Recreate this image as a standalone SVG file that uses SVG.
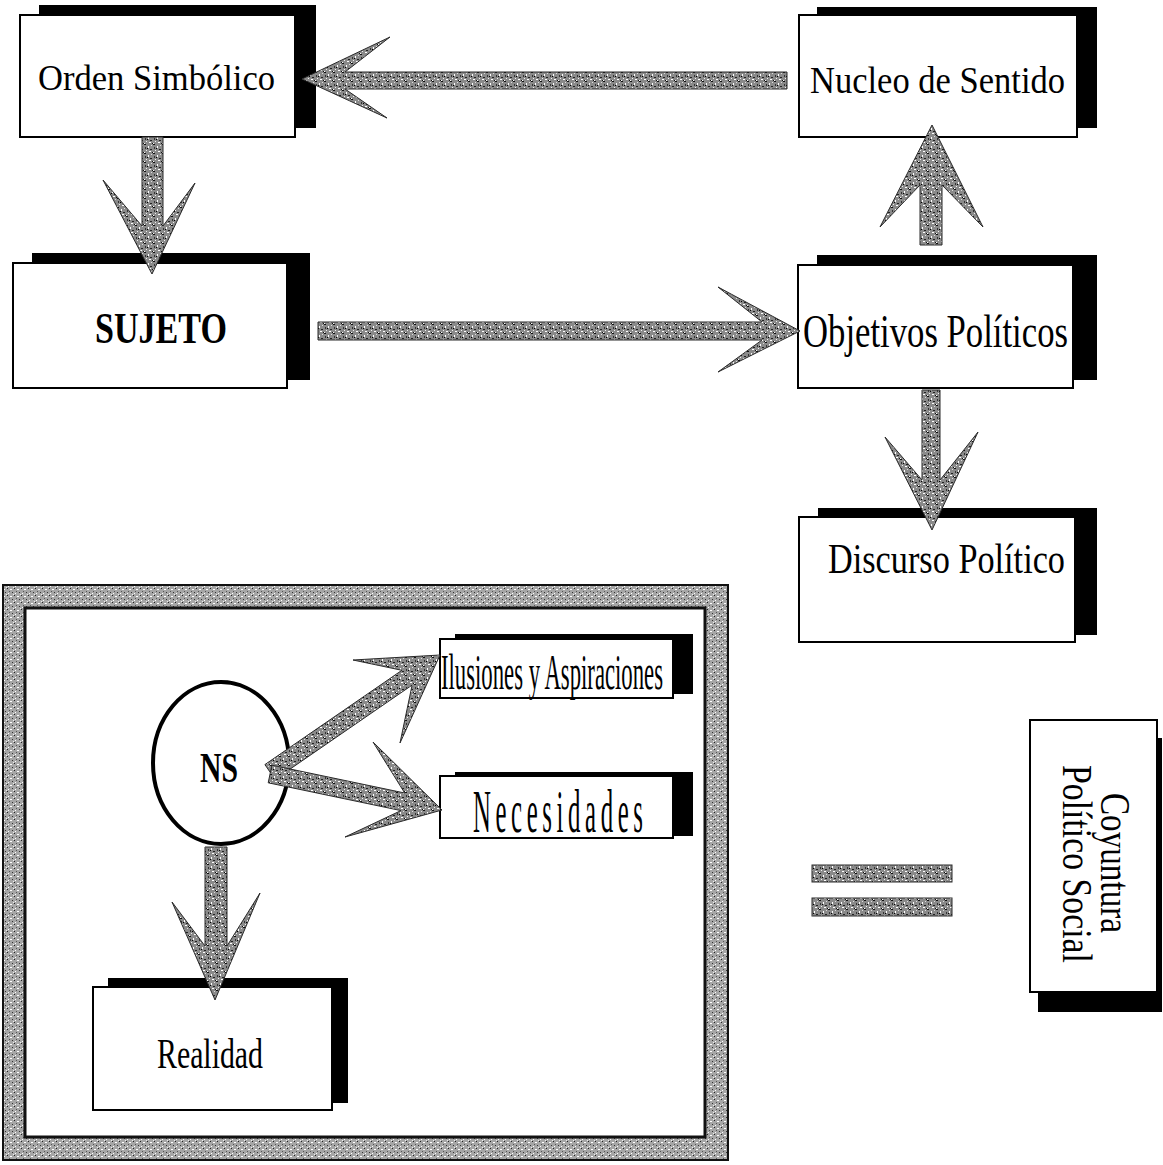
<svg xmlns="http://www.w3.org/2000/svg" width="1163" height="1165" viewBox="0 0 1163 1165">
<defs>
<pattern id="tex" width="9" height="9" patternUnits="userSpaceOnUse">
<rect width="9" height="9" fill="#8a8a8a"/>
<rect x="0" y="0" width="2" height="1" fill="#111"/>
<rect x="4" y="2" width="1" height="2" fill="#fff"/>
<rect x="6" y="5" width="2" height="1" fill="#222"/>
<rect x="2" y="6" width="1" height="1" fill="#eee"/>
<rect x="7" y="1" width="1" height="1" fill="#ddd"/>
<rect x="1" y="3" width="1" height="2" fill="#333"/>
<rect x="5" y="7" width="2" height="1" fill="#fff"/>
<rect x="3" y="4" width="1" height="1" fill="#000"/>
<rect x="8" y="8" width="1" height="1" fill="#111"/>
<rect x="0" y="8" width="1" height="1" fill="#fff"/>
</pattern>
<pattern id="texLight" width="7" height="7" patternUnits="userSpaceOnUse">
<rect width="7" height="7" fill="#a6a6a6"/>
<rect x="0" y="0" width="1" height="1" fill="#222"/>
<rect x="3" y="1" width="2" height="1" fill="#fff"/>
<rect x="5" y="4" width="1" height="1" fill="#333"/>
<rect x="1" y="5" width="1" height="1" fill="#fff"/>
<rect x="2" y="3" width="1" height="1" fill="#555"/>
<rect x="6" y="6" width="1" height="1" fill="#eee"/>
</pattern>
</defs>
<style>
.shadow{fill:#000}
.box{fill:#fff;stroke:#000;stroke-width:2}
.lbl{font-family:"Liberation Serif","Times New Roman",serif;fill:#000}
.arrow{fill:url(#tex);stroke:#2a2a2a;stroke-width:1;stroke-linejoin:miter}
</style>
<rect width="1163" height="1165" fill="#fff"/>

<g id="ns-frame">
<path d="M3,585 H728 V1160 H3 Z M25,608 V1137 H705 V608 Z" fill="url(#texLight)" fill-rule="evenodd"/>
<rect x="3" y="585" width="725" height="575" fill="none" stroke="#111" stroke-width="2"/>
<rect x="25" y="608" width="680" height="529" fill="none" stroke="#111" stroke-width="3"/>
</g>

<g id="orden-simbolico">
<rect class="shadow" x="39" y="5" width="277" height="123"/>
<rect class="box" x="20" y="15" width="275" height="122"/>
<text class="lbl" x="38" y="90" font-size="36" textLength="237" lengthAdjust="spacingAndGlyphs">Orden Simbólico</text>
</g>

<g id="sujeto">
<rect class="shadow" x="32" y="253" width="278" height="127"/>
<rect class="box" x="13" y="263" width="274" height="125"/>
<text class="lbl" x="95" y="343" font-size="44" font-weight="bold" textLength="132" lengthAdjust="spacingAndGlyphs">SUJETO</text>
</g>

<g id="nucleo-de-sentido">
<rect class="shadow" x="817" y="7" width="280" height="121"/>
<rect class="box" x="799" y="15" width="278" height="122"/>
<text class="lbl" x="810" y="93" font-size="38" textLength="255" lengthAdjust="spacingAndGlyphs">Nucleo de Sentido</text>
</g>

<g id="objetivos-politicos">
<rect class="shadow" x="817" y="255" width="280" height="125"/>
<rect class="box" x="798" y="265" width="275" height="123"/>
<text class="lbl" x="803" y="347" font-size="46" textLength="265" lengthAdjust="spacingAndGlyphs">Objetivos Políticos</text>
</g>

<g id="discurso-politico">
<rect class="shadow" x="818" y="508" width="279" height="127"/>
<rect class="box" x="799" y="517" width="276" height="125"/>
<text class="lbl" x="828" y="573" font-size="42" textLength="237" lengthAdjust="spacingAndGlyphs">Discurso Político</text>
</g>

<g id="ilusiones-aspiraciones">
<rect class="shadow" x="455" y="634" width="238" height="60"/>
<rect class="box" x="440" y="639" width="233" height="59"/>
<text class="lbl" x="441" y="689" font-size="50" textLength="222" lengthAdjust="spacingAndGlyphs">Ilusiones y Aspiraciones</text>
</g>

<g id="necesidades">
<rect class="shadow" x="455" y="772" width="238" height="64"/>
<rect class="box" x="440" y="776" width="233" height="62"/>
<text class="lbl" transform="translate(473,832) scale(0.4,1)" x="0" y="0" font-size="62" textLength="425" lengthAdjust="spacing">Necesidades</text>
</g>

<g id="ns">
<ellipse cx="221" cy="763" rx="68" ry="81" fill="#fff" stroke="#000" stroke-width="4"/>
<text class="lbl" x="200" y="782" font-size="42" font-weight="bold" textLength="38" lengthAdjust="spacingAndGlyphs">NS</text>
</g>

<g id="realidad">
<rect class="shadow" x="108" y="978" width="240" height="125"/>
<rect class="box" x="93" y="987" width="239" height="123"/>
<text class="lbl" x="157" y="1068" font-size="42" textLength="106" lengthAdjust="spacingAndGlyphs">Realidad</text>
</g>

<g id="coyuntura-politico-social">
<rect class="shadow" x="1038" y="738" width="124" height="274"/>
<rect class="box" x="1030" y="720" width="127" height="272"/>
<text class="lbl" transform="translate(1101,863) rotate(90)" x="0" y="0" font-size="42" text-anchor="middle" textLength="140" lengthAdjust="spacingAndGlyphs">Coyuntura</text>
<text class="lbl" transform="translate(1063,864) rotate(90)" x="0" y="0" font-size="42" text-anchor="middle" textLength="198" lengthAdjust="spacingAndGlyphs">Político Social</text>
</g>

<g id="equals">
<rect x="812" y="865" width="140" height="17" fill="url(#tex)" stroke="#2a2a2a" stroke-width="1"/>
<rect x="812" y="898" width="140" height="18" fill="url(#tex)" stroke="#2a2a2a" stroke-width="1"/>
</g>

<g id="connectors">
<path class="arrow" d="M787,72 L345,72 L390,37 L302,79 L387,118 L345,89 L787,89 Z"/>
<path class="arrow" d="M142,137 L163,137 L163,226 L195,183 L152,274 L103,180 L142,226 Z"/>
<path class="arrow" d="M318,322 L762,322 L718,287 L800,331 L718,372 L762,340 L318,340 Z"/>
<path class="arrow" d="M920,245 L920,185 L880,227 L932,125 L983,227 L942,185 L942,245 Z"/>
<path class="arrow" d="M922,390 L940,390 L940,480 L978,432 L932,530 L885,437 L922,480 Z"/>
<path class="arrow" d="M264.9,764.6 L401.9,670.3 L353,660 L440,655 L400,743 L412.1,685.1 L275.1,779.4 Z"/>
<path class="arrow" d="M271.9,765.2 L404.7,793 L373,742 L442,810 L345,837 L401,810.6 L268.2,782.8 Z"/>
<path class="arrow" d="M205,847 L227,847 L227,946 L260,893 L215,1000 L172,902 L205,946 Z"/>
</g>
</svg>
